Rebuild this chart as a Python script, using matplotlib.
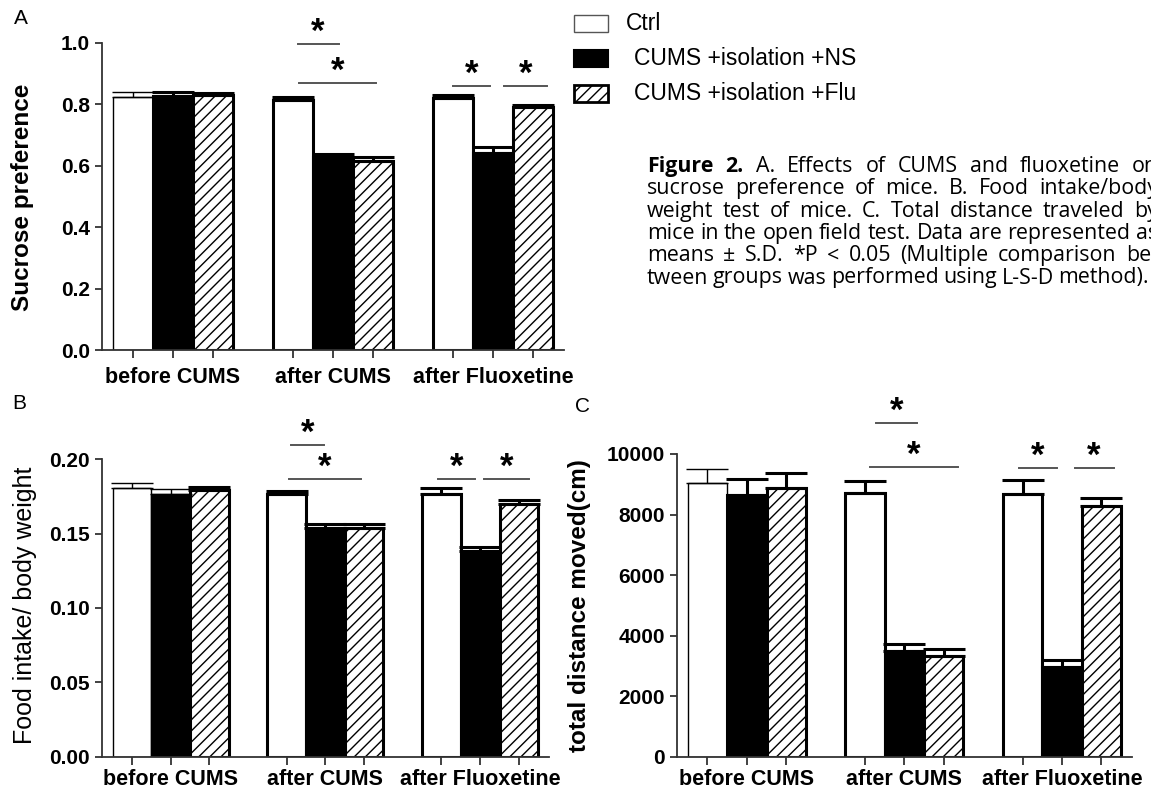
import matplotlib
matplotlib.use('Agg')
import matplotlib.pyplot as plt
from matplotlib.patches import Rectangle

plt.rcParams['font.family'] = ['Liberation Sans', 'DejaVu Sans']
plt.rcParams['hatch.linewidth'] = 1.0

groups = ['before CUMS', 'after CUMS', 'after Fluoxetine']
series = ['Ctrl', 'CUMS +isolation +NS', 'CUMS +isolation +Flu']

# rows = series (Ctrl, NS, Flu), columns = groups
sucrose_mean = [[0.824, 0.813, 0.819], [0.828, 0.627, 0.640], [0.830, 0.615, 0.790]]
sucrose_sd = [[0.014, 0.010, 0.010], [0.010, 0.010, 0.020], [0.005, 0.012, 0.008]]
food_mean = [[0.1805, 0.1765, 0.1765], [0.1769, 0.1540, 0.1385], [0.1794, 0.1540, 0.1697]]
food_sd = [[0.0034, 0.0020, 0.0045], [0.0030, 0.0025, 0.0025], [0.0020, 0.0025, 0.0030]]
dist_mean = [[9052, 8700, 8668], [8645, 3502, 2953], [8887, 3327, 8282]]
dist_sd = [[440, 420, 470], [540, 220, 240], [500, 220, 250]]

# significance lines (x from, x to, height)
sucrose_sig = [(4.12, 5.14, 0.995), (4.15, 6.08, 0.870), (8.01, 8.93, 0.859), (9.27, 10.35, 0.859)]
food_sig = [(4.12, 4.97, 0.2096), (4.06, 5.91, 0.1866), (7.92, 8.87, 0.1866), (9.09, 10.26, 0.1866)]
dist_sig = [(4.29, 5.31, 11034), (4.13, 6.35, 9561), (7.90, 8.88, 9550), (9.32, 10.31, 9550)]

caption = [
    'Figure 2. A. Effects of CUMS and fluoxetine on',
    'sucrose preference of mice. B. Food intake/body',
    'weight test of mice. C. Total distance traveled by',
    'mice in the open field test. Data are represented as',
    'means \u00b1 S.D. *P < 0.05 (Multiple comparison be-',
    'tween groups was performed using L-S-D method).',
]

AX = '#333333'


def draw_panel(ax, mean, sd, thin, ymax, yticks, fmt, sig, label_off):
    faces = ['white', 'black', 'white']
    for s in range(3):
        for g in range(3):
            x = g * 4 + s
            lw = 1.0 if (g == 0 and s in thin) else 2.2
            ax.bar(x, mean[s][g], width=1.0, color=faces[s], edgecolor='black',
                   linewidth=lw, hatch='///' if s == 2 else None, zorder=2)
            ax.errorbar(x, mean[s][g], yerr=[[0], [sd[s][g]]], fmt='none', ecolor='black',
                        elinewidth=lw, capsize=15, capthick=lw, zorder=3)

    ax.set_xlim(-0.78, 10.78)
    ax.set_ylim(0, ymax)
    ax.spines[['top', 'right']].set_visible(False)
    for sp in ['left', 'bottom']:
        ax.spines[sp].set_linewidth(1.3)
        ax.spines[sp].set_color(AX)

    ax.set_yticks(yticks, [fmt.format(v) for v in yticks])
    ax.set_xticks([g * 4 + s for g in range(3) for s in range(3)], [''] * 9)
    ax.tick_params(axis='x', length=6, width=1.3, color=AX)
    ax.tick_params(axis='y', length=5.3, width=1.3, color=AX, pad=3, labelsize=15)
    for lbl in ax.get_yticklabels():
        lbl.set_fontweight('bold')
    # group names under the middle bar of each group
    for g, name in enumerate(groups):
        ax.annotate(name, xy=(g * 4 + 1, 0), xycoords=ax.get_xaxis_transform(),
                    xytext=(0, label_off), textcoords='offset points', ha='center', va='baseline',
                    fontsize=15.5, fontweight='bold', annotation_clip=False)

    for x0, x1, y in sig:
        ax.plot([x0, x1], [y, y], color='#555555', lw=1.4, clip_on=False, zorder=4)
        ax.annotate('*', xy=((x0 + x1) / 2, y), xytext=(0, 1.5), textcoords='offset points',
                    ha='center', va='baseline', fontsize=25, fontweight='bold',
                    annotation_clip=False)


fig = plt.figure(figsize=(11.51, 7.91), dpi=100)

axA = fig.add_axes([0.0884, 0.5575, 0.4017, 0.3885])
draw_panel(axA, sucrose_mean, sucrose_sd, [0], 1.0, [0, 0.2, 0.4, 0.6, 0.8, 1.0], '{:.1f}',
           sucrose_sig, -24)

axB = fig.add_axes([0.0884, 0.04336, 0.3886, 0.376])
draw_panel(axB, food_mean, food_sd, [0, 1], 0.2, [0, 0.05, 0.10, 0.15, 0.20], '{:.2f}',
           food_sig, -20.5)

axC = fig.add_axes([0.5879, 0.04336, 0.3957, 0.3827])
draw_panel(axC, dist_mean, dist_sd, [0], 10000, [0, 2000, 4000, 6000, 8000, 10000], '{:d}',
           dist_sig, -20.5)

# overlay in pixel units for labels, legend and caption
ov = fig.add_axes([0, 0, 1, 1])
ov.set_xlim(0, 1151)
ov.set_ylim(791, 0)
ov.axis('off')

ov.text(23, 197, 'Sucrose preference', rotation=90, ha='center', va='center',
        fontsize=17.5, fontweight='bold')
ov.text(25, 605, 'Food intake/ body weight', rotation=90, ha='center', va='center', fontsize=18)
ov.text(580, 606, 'total distance moved(cm)', rotation=90, ha='center', va='center',
        fontsize=17.5, fontweight='bold')

for letter, x, y in [('A', 20.5, 19), ('B', 19.5, 403.5), ('C', 583, 406)]:
    ov.text(x, y, letter, ha='center', va='center', fontsize=15)

# legend
ov.add_patch(Rectangle((574, 15), 34, 17, facecolor='white', edgecolor='#555555', lw=1))
ov.add_patch(Rectangle((574, 50), 34, 17, facecolor='black', edgecolor='black', lw=1.5))
ov.add_patch(Rectangle((574, 85), 34, 17, facecolor='white', edgecolor='black', lw=2, hatch='///'))
ov.text(626, 23.5, series[0], va='center', fontsize=16.5)
ov.text(634, 58.5, series[1], va='center', fontsize=16.5)
ov.text(634, 93.5, series[2], va='center', fontsize=16.5)

# justified caption; font size fitted so the loosest line sets naturally
renderer = fig.canvas.get_renderer()
cap_font = ['Open Sans', 'DejaVu Sans']
probe = ov.text(0, 0, caption[3], fontsize=12, family=cap_font)
cap_size = 12 * 508 / probe.get_window_extent(renderer).width
probe.remove()

x_left = 647
for i, line in enumerate(caption):
    y = 172 + i * 22.3
    x_right = 1158 if i < len(caption) - 1 else 1149
    texts = []
    for j, w in enumerate(line.split(' ')):
        weight = 'bold' if (i == 0 and j < 2) else 'normal'
        texts.append(ov.text(0, y, w, va='baseline', fontsize=cap_size, fontweight=weight,
                             family=cap_font))
    widths = [t.get_window_extent(renderer).width for t in texts]
    gap = (x_right - x_left - sum(widths)) / (len(texts) - 1)
    x = x_left
    for t, wd in zip(texts, widths):
        t.set_x(x)
        x += wd + gap

fig.savefig('out.png', dpi=100)
